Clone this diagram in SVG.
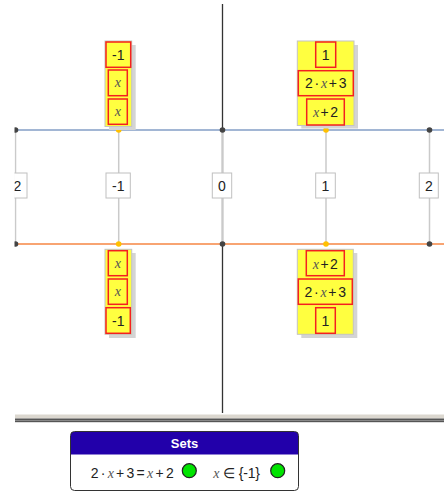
<svg xmlns="http://www.w3.org/2000/svg" width="444" height="502" viewBox="0 0 444 502">
<style>
.n{font-family:"Liberation Sans",Arial,sans-serif;font-size:14px;fill:#222;text-anchor:middle}
.v{font-family:"Liberation Serif","Times New Roman",serif;font-style:italic;fill:#555}
.stk{fill:#ffff40;stroke:#c4c4c4;stroke-width:1}
.sh{fill:#d4d4d4}
.rb{fill:none;stroke:#f42020;stroke-width:1.5}
.lb{fill:#fff;stroke:#c0c0c0;stroke-width:1}
.conn{stroke:#cacaca;stroke-width:1.5}
.dd{fill:#444}
.yd{fill:#ffc000}
.gc{fill:#00e400;stroke:#222;stroke-width:1.2}
</style>
<defs>
<clipPath id="view"><rect x="14.5" y="0" width="430" height="414"/></clipPath>
<clipPath id="panel"><rect x="70.5" y="431.5" width="228" height="59" rx="4"/></clipPath>
</defs>
<rect width="444" height="502" fill="#fff"/>
<g clip-path="url(#view)">
<g id="axis"><line x1="222.5" y1="4" x2="222.5" y2="413" stroke="#333" stroke-width="1.3"/></g>
<g id="connectors">
<line class="conn" x1="15.5" y1="130" x2="15.5" y2="244"/>
<line class="conn" x1="118.7" y1="130" x2="118.7" y2="244"/>
<line class="conn" x1="222.5" y1="130" x2="222.5" y2="244"/>
<line class="conn" x1="326" y1="130" x2="326" y2="244"/>
<line class="conn" x1="429.5" y1="130" x2="429.5" y2="244"/>
<line x1="15" y1="130" x2="444" y2="130" stroke="#a2b6d4" stroke-width="2"/>
<line x1="15" y1="244" x2="444" y2="244" stroke="#f8a472" stroke-width="2"/>
</g>
<g id="dots">
<circle class="dd" cx="15.5" cy="130" r="2.8"/><circle class="yd" cx="118.7" cy="130" r="2.8"/><circle class="dd" cx="222.5" cy="130" r="2.8"/><circle class="yd" cx="326" cy="130" r="2.8"/><circle class="dd" cx="429.5" cy="130" r="2.8"/>
<circle class="dd" cx="15.5" cy="244" r="2.8"/><circle class="yd" cx="118.7" cy="244" r="2.8"/><circle class="dd" cx="222.5" cy="244" r="2.8"/><circle class="yd" cx="326" cy="244" r="2.8"/><circle class="dd" cx="429.5" cy="244" r="2.8"/>
</g>
<g id="label-m2"><rect class="lb" x="7" y="173" width="20" height="25"/><text class="n" x="17.5" y="190.5">2</text></g>
<g id="label-m1"><rect class="lb" x="106" y="173" width="24.3" height="25"/><text class="n" x="118.2" y="190.5">-1</text></g>
<g id="label-0"><rect class="lb" x="212.3" y="173" width="19.4" height="25"/><text class="n" x="222" y="190.5">0</text></g>
<g id="label-1"><rect class="lb" x="315.7" y="173" width="19.6" height="25"/><text class="n" x="325.5" y="190.5">1</text></g>
<g id="label-2"><rect class="lb" x="419.3" y="173" width="19" height="25"/><text class="n" x="428.8" y="190.5">2</text></g>

<g id="stack-top-left">
<rect class="sh" x="109" y="45" width="26.7" height="85"/>
<rect class="stk" x="105" y="41" width="26.7" height="85.5"/>
<rect class="rb" x="106" y="42" width="24.7" height="25.3"/><text class="n" x="118.3" y="59.5">-1</text>
<rect class="rb" x="108.3" y="70" width="19" height="25.7"/><text class="n v" x="117.8" y="87">x</text>
<rect class="rb" x="108.3" y="99" width="19" height="25.3"/><text class="n v" x="117.8" y="116">x</text>
</g>
<g id="stack-top-right">
<rect class="sh" x="301.3" y="45" width="56.7" height="83.5"/>
<rect class="stk" x="297.3" y="41" width="56.7" height="84.5"/>
<rect class="rb" x="315.7" y="42" width="20" height="25.3"/><text class="n" x="325.7" y="59.5">1</text>
<rect class="rb" x="298.3" y="70.7" width="55" height="25"/><text class="n" x="325.8" y="88" textLength="41.5" lengthAdjust="spacing">2 · <tspan class="v">x</tspan> + 3</text>
<rect class="rb" x="306.7" y="99" width="37.6" height="26"/><text class="n" x="325.5" y="117" textLength="25" lengthAdjust="spacing"><tspan class="v">x</tspan> + 2</text>
</g>
<g id="stack-bottom-left">
<rect class="sh" x="109" y="253" width="26.7" height="85"/>
<rect class="stk" x="105" y="249.3" width="26.7" height="85"/>
<rect class="rb" x="108.3" y="250.7" width="19" height="25"/><text class="n v" x="117.8" y="267.5">x</text>
<rect class="rb" x="108.3" y="279" width="19" height="25.3"/><text class="n v" x="117.8" y="296">x</text>
<rect class="rb" x="106" y="307.7" width="24.3" height="25.6"/><text class="n" x="118.2" y="325.5">-1</text>
</g>
<g id="stack-bottom-right">
<rect class="sh" x="301.3" y="253" width="56" height="85"/>
<rect class="stk" x="297.3" y="249.3" width="56" height="85"/>
<rect class="rb" x="306.3" y="250.7" width="38" height="25"/><text class="n" x="325.3" y="268.5" textLength="25" lengthAdjust="spacing"><tspan class="v">x</tspan> + 2</text>
<rect class="rb" x="298.3" y="279" width="54" height="25.3"/><text class="n" x="325.3" y="296.5" textLength="41.5" lengthAdjust="spacing">2 · <tspan class="v">x</tspan> + 3</text>
<rect class="rb" x="315.7" y="307.7" width="19.6" height="25.6"/><text class="n" x="325.5" y="325.5">1</text>
</g>
</g>
<g id="separator">
<rect x="15" y="414.5" width="429" height="4" fill="#dbd7cf"/>
<rect x="15" y="418.5" width="429" height="1.5" fill="#555"/>
<rect x="15" y="420" width="429" height="1" fill="#888"/>
<rect x="15" y="421" width="429" height="1.2" fill="#555"/>
</g>
<g id="sets-panel">
<rect x="70.5" y="431.5" width="228" height="59" rx="4" fill="#fff"/>
<rect x="70.5" y="431.5" width="228" height="23" fill="#2200aa" clip-path="url(#panel)"/>
<rect x="70.5" y="431.5" width="228" height="59" rx="4" fill="none" stroke="#333" stroke-width="1"/>
<text x="184.5" y="448" font-family="Liberation Sans,Arial,sans-serif" font-size="13" font-weight="bold" fill="#fff" text-anchor="middle">Sets</text>
<text x="90.7" y="477.5" font-family="Liberation Sans,Arial,sans-serif" font-size="14" fill="#222" textLength="83" lengthAdjust="spacing">2 · <tspan class="v">x</tspan> + 3 = <tspan class="v">x</tspan> + 2</text>
<circle class="gc" cx="189.3" cy="470.7" r="7"/>
<text x="213.3" y="477.5" font-family="Liberation Sans,Arial,sans-serif" font-size="14" fill="#222" textLength="46.7" lengthAdjust="spacing"><tspan class="v">x</tspan> ∈ {-1}</text>
<circle class="gc" cx="277.7" cy="470.7" r="7"/>
</g>
</svg>
